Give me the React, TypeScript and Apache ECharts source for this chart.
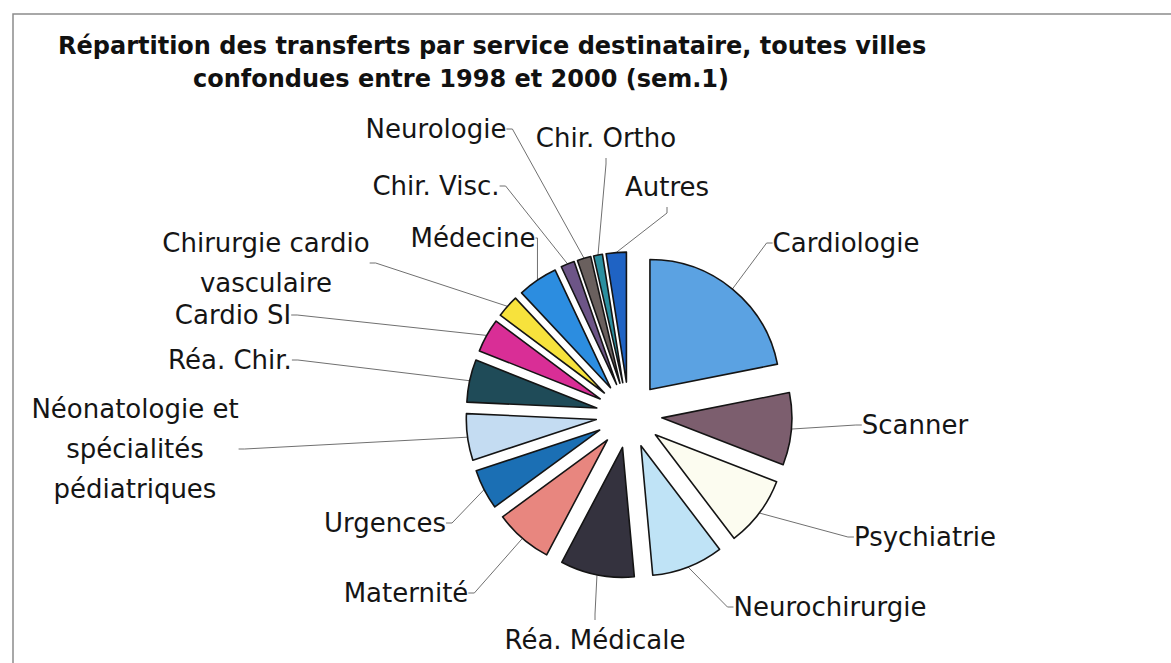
import React, { useEffect, useRef } from 'react';
import * as echarts from 'echarts';

const titleLines = [
  'Répartition des transferts par service destinataire, toutes villes',
  'confondues entre 1998 et 2000 (sem.1)',
];

const categories = [
  'Cardiologie',
  'Scanner',
  'Psychiatrie',
  'Neurochirurgie',
  'Réa. Médicale',
  'Maternité',
  'Urgences',
  'Néonatologie et\nspécialités\npédiatriques',
  'Réa. Chir.',
  'Cardio SI',
  'Chirurgie cardio\nvasculaire',
  'Médecine',
  'Chir. Visc.',
  'Neurologie',
  'Chir. Ortho',
  'Autres',
];

// share of transfers (%)
const values = [21.9, 9.0, 8.8, 8.9, 9.2, 7.2, 5.0, 5.8, 5.3, 4.2, 2.8, 5.0, 1.7, 1.7, 1.1, 2.5];

const colors = [
  '#5ba2e2', '#7c5e6e', '#fcfcf0', '#bfe3f6', '#34323e', '#e8867f', '#1b6fb4', '#c4dcf2',
  '#1f4b58', '#d92e96', '#f7e23c', '#2c8de0', '#6d5587', '#6a605e', '#2b8fa0', '#1f63c4',
];

// label centres (annotation layout)
const labelCenters: [number, number][] = [
  [846, 243], [915, 425], [925, 537], [830, 607], [595, 640], [406, 593], [385, 523], [135, 449],
  [230, 360], [233, 315], [266, 263], [473, 238], [436, 186], [436, 129], [606, 138], [667, 187],
];

const CX = 629;
const CY = 415;
const R = 130;
const OFFSET = 33;

export default function App() {
  const ref = useRef<HTMLDivElement>(null);
  useEffect(() => {
    if (!ref.current) return;
    const chart = echarts.init(ref.current, null, { renderer: 'svg' });
    const total = values.reduce((a, b) => a + b, 0);
    let cum = 0;
    const series = values.map((v, i) => {
      const mid = ((cum + v / 2) / total) * Math.PI * 2;
      cum += v;
      return {
        type: 'pie',
        center: [CX + OFFSET * Math.sin(mid), CY - OFFSET * Math.cos(mid)],
        radius: R,
        startAngle: 90,
        clockwise: true,
        avoidLabelOverlap: false,
        silent: true,
        z: 2,
        label: {
          position: 'outside',
          formatter: '{b}',
          fontFamily: 'DejaVu Sans',
          fontSize: 26,
          lineHeight: 40,
          color: '#151515',
          align: 'center',
        },
        labelLine: {
          length: 10,
          length2: 6,
          lineStyle: { color: '#707070', width: 1 },
        },
        labelLayout: (p: any) =>
          p.dataIndex === i
            ? { x: labelCenters[i][0], y: labelCenters[i][1], align: 'center', verticalAlign: 'middle' }
            : {},
        data: values.map((val, j) => ({
          value: val,
          name: categories[j],
          itemStyle:
            j === i
              ? { color: colors[j], borderColor: '#141414', borderWidth: 1.6 }
              : { color: 'rgba(0,0,0,0)', borderWidth: 0 },
          label: { show: j === i },
          labelLine: { show: j === i },
        })),
      };
    });
    chart.setOption({
      animation: false,
      backgroundColor: '#ffffff',
      title: [
        {
          text: titleLines[0],
          left: 53,
          top: 29,
          textStyle: { fontFamily: 'DejaVu Sans', fontWeight: 'bold', fontSize: 24, color: '#111' },
        },
        {
          text: titleLines[1],
          left: 188,
          top: 62,
          textStyle: { fontFamily: 'DejaVu Sans', fontWeight: 'bold', fontSize: 24, color: '#111' },
        },
      ],
      graphic: [
        {
          type: 'polyline',
          shape: { points: [[13, 663], [13, 14], [1171, 14]] },
          style: { stroke: '#8c8c8c', lineWidth: 1.5, fill: 'none' },
          silent: true,
        },
      ],
      series,
    });
    return () => chart.dispose();
  }, []);
  return (
    <div
      ref={ref}
      style={{ position: 'absolute', left: 0, top: 0, width: 1171, height: 663 }}
    />
  );
}
